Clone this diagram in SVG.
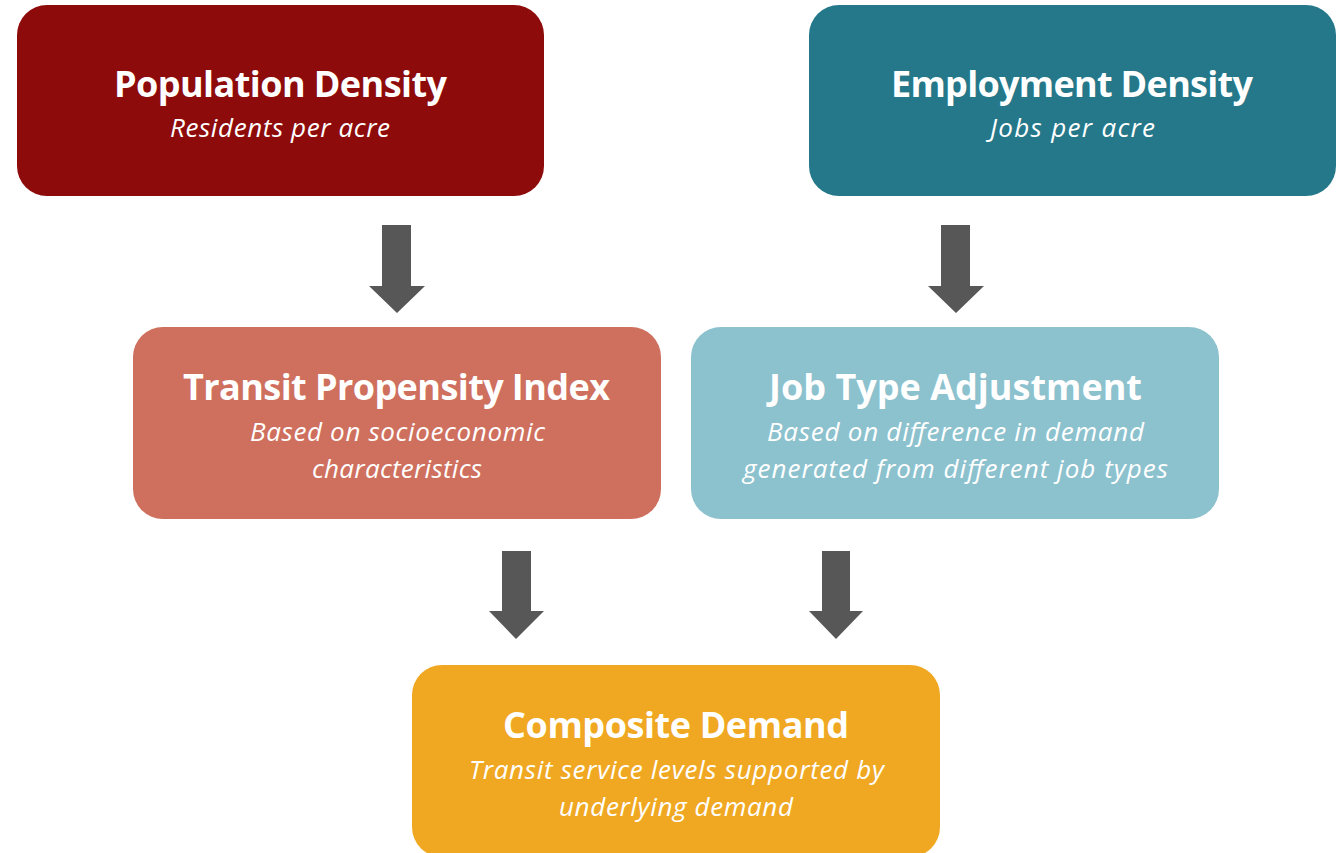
<svg xmlns="http://www.w3.org/2000/svg" width="1342" height="853" viewBox="0 0 1342 853">
<style>
.t{font-family:"Open Sans","Lato",sans-serif;font-weight:bold;font-size:36px;fill:#fff;text-anchor:middle}
.s{font-family:"Open Sans","Lato",sans-serif;font-style:italic;font-size:26px;fill:#fff;text-anchor:middle}
.arr{fill:#575757}
</style>
<rect width="1342" height="853" fill="#fff"/>
<g id="population">
<rect x="17" y="5" width="527" height="191" rx="30" fill="#8E0B0B"/>
<text class="t" x="280.5" y="97" textLength="333">Population Density</text>
<text class="s" x="280" y="137" textLength="220">Residents per acre</text>
</g>
<g id="employment">
<rect x="809" y="5" width="527" height="191" rx="30" fill="#24788A"/>
<text class="t" x="1072" y="97" textLength="362">Employment Density</text>
<text class="s" x="1072.5" y="137" textLength="165">Jobs per acre</text>
</g>
<g id="transit">
<rect x="133" y="327" width="528" height="192" rx="30" fill="#CF6F5E"/>
<text class="t" x="396.5" y="400" textLength="427">Transit Propensity Index</text>
<text class="s" x="397.5" y="441" textLength="295">Based on socioeconomic</text>
<text class="s" x="397" y="478" textLength="170">characteristics</text>
</g>
<g id="jobtype">
<rect x="691" y="327" width="528" height="192" rx="30" fill="#8CC1CE"/>
<text class="t" x="955.5" y="400" textLength="373">Job Type Adjustment</text>
<text class="s" x="955.5" y="441" textLength="377">Based on difference in demand</text>
<text class="s" x="955.5" y="478" textLength="425">generated from different job types</text>
</g>
<g id="composite">
<rect x="412" y="665" width="528" height="192" rx="30" fill="#F0A822"/>
<text class="t" x="676" y="738" textLength="346">Composite Demand</text>
<text class="s" x="676.5" y="779" textLength="415">Transit service levels supported by</text>
<text class="s" x="676" y="816" textLength="234">underlying demand</text>
</g>
<g id="connectors">
<polygon class="arr" points="382,225 411,225 411,286 425,286 397,313 369,286 382,286"/>
<polygon class="arr" points="941,225 970,225 970,286 984,286 956,313 928,286 941,286"/>
<polygon class="arr" points="502,551 531,551 531,611 544,611 516,639 489,611 502,611"/>
<polygon class="arr" points="822,551 850,551 850,611 863,611 836,639 809,611 822,611"/>
</g>
</svg>
